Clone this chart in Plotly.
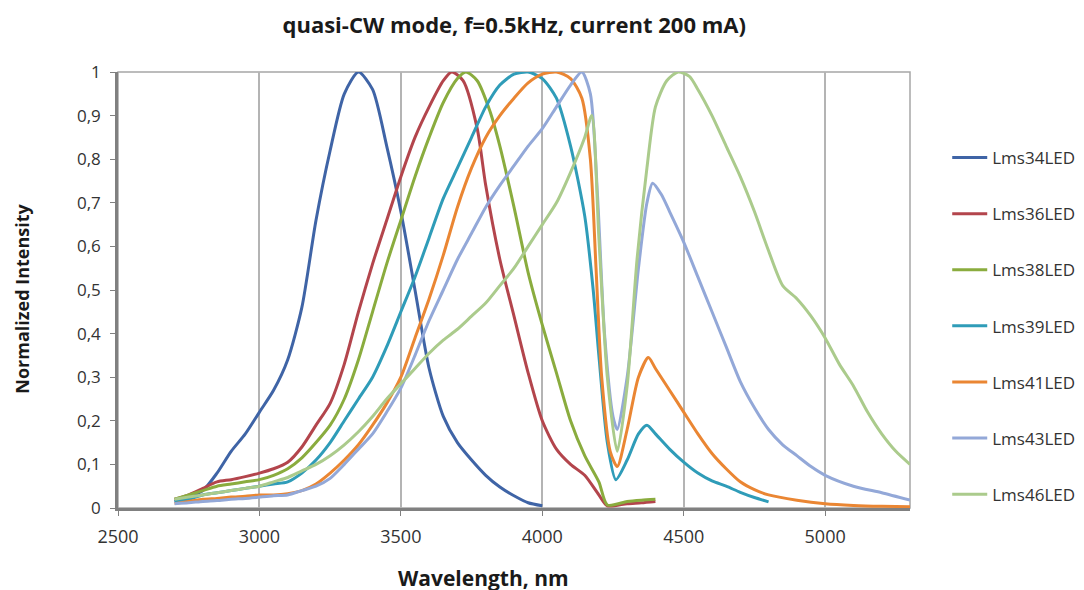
import plotly.graph_objects as go

# spectra (wavelength nm, normalized intensity)
lms34_x = [2700, 2750, 2800, 2850, 2900, 2950, 3000, 3050, 3100, 3150, 3200, 3250, 3300, 3350,
           3400, 3450, 3500, 3550, 3600, 3650, 3700, 3750, 3800, 3850, 3900, 3950, 4000]
lms34_y = [0.015, 0.025, 0.04, 0.08, 0.13, 0.17, 0.22, 0.27, 0.34, 0.46, 0.66, 0.82, 0.95, 1.0,
           0.96, 0.83, 0.68, 0.50, 0.32, 0.21, 0.15, 0.11, 0.075, 0.048, 0.028, 0.012, 0.005]

lms36_x = [2700, 2750, 2800, 2850, 2900, 2950, 3000, 3050, 3100, 3150, 3200, 3250, 3300, 3350,
           3400, 3450, 3500, 3550, 3600, 3650, 3680, 3720, 3770, 3800, 3850, 3900, 3950, 4000,
           4050, 4100, 4150, 4200, 4230, 4300, 4350, 4400]
lms36_y = [0.02, 0.03, 0.045, 0.06, 0.065, 0.072, 0.08, 0.09, 0.105, 0.14, 0.19, 0.24, 0.33, 0.45,
           0.56, 0.66, 0.76, 0.85, 0.92, 0.98, 1.0, 0.98, 0.87, 0.74, 0.57, 0.44, 0.31, 0.20,
           0.135, 0.10, 0.075, 0.03, 0.005, 0.01, 0.012, 0.015]

lms38_x = [2700, 2750, 2800, 2850, 2900, 2950, 3000, 3050, 3100, 3150, 3200, 3250, 3300, 3350,
           3400, 3450, 3500, 3550, 3600, 3650, 3700, 3730, 3770, 3815, 3850, 3900, 3950, 4000,
           4050, 4100, 4150, 4200, 4230, 4300, 4350, 4400]
lms38_y = [0.02, 0.03, 0.04, 0.05, 0.055, 0.06, 0.065, 0.075, 0.09, 0.115, 0.15, 0.19, 0.25, 0.34,
           0.45, 0.56, 0.66, 0.76, 0.85, 0.93, 0.985, 1.0, 0.98, 0.91, 0.83, 0.69, 0.54, 0.42,
           0.31, 0.20, 0.12, 0.06, 0.007, 0.015, 0.018, 0.02]

lms39_x = [2700, 2750, 2800, 2850, 2900, 2950, 3000, 3050, 3100, 3150, 3200, 3250, 3300, 3350,
           3400, 3450, 3500, 3550, 3600, 3650, 3700, 3750, 3800, 3850, 3900, 3950, 4000, 4050,
           4100, 4150, 4180, 4200, 4230, 4260, 4300, 4340, 4370, 4400, 4450, 4500, 4550, 4600,
           4650, 4700, 4750, 4800]
lms39_y = [0.015, 0.02, 0.03, 0.035, 0.04, 0.045, 0.05, 0.055, 0.06, 0.08, 0.11, 0.15, 0.20, 0.25,
           0.30, 0.37, 0.45, 0.53, 0.62, 0.71, 0.78, 0.85, 0.92, 0.97, 0.995, 1.0, 0.985, 0.94,
           0.83, 0.67, 0.50, 0.35, 0.15, 0.065, 0.11, 0.17, 0.19, 0.17, 0.135, 0.105, 0.08, 0.062,
           0.05, 0.036, 0.024, 0.014]

lms41_x = [2700, 2750, 2800, 2850, 2900, 2950, 3000, 3050, 3100, 3150, 3200, 3250, 3300, 3350,
           3400, 3450, 3500, 3550, 3600, 3650, 3700, 3750, 3800, 3850, 3900, 3950, 4000, 4050,
           4100, 4140, 4170, 4190, 4210, 4240, 4265, 4300, 4340, 4375, 4400, 4450, 4500, 4550,
           4600, 4650, 4700, 4750, 4800, 4900, 5000, 5100, 5200, 5300]
lms41_y = [0.01, 0.015, 0.02, 0.022, 0.025, 0.027, 0.03, 0.03, 0.033, 0.04, 0.055, 0.08, 0.11, 0.145,
           0.19, 0.24, 0.30, 0.39, 0.48, 0.58, 0.69, 0.78, 0.85, 0.90, 0.94, 0.975, 0.995, 1.0,
           0.985, 0.94, 0.80, 0.55, 0.30, 0.13, 0.095, 0.18, 0.30, 0.345, 0.32, 0.27, 0.22, 0.17,
           0.125, 0.09, 0.06, 0.042, 0.03, 0.018, 0.01, 0.006, 0.004, 0.003]

lms43_x = [2700, 2750, 2800, 2850, 2900, 2950, 3000, 3050, 3100, 3150, 3200, 3250, 3300, 3350,
           3400, 3450, 3500, 3550, 3600, 3650, 3700, 3750, 3800, 3850, 3900, 3950, 4000, 4050,
           4100, 4140, 4170, 4195, 4220, 4250, 4265, 4300, 4340, 4370, 4390, 4420, 4450, 4500,
           4550, 4600, 4650, 4700, 4750, 4800, 4850, 4900, 4950, 5000, 5100, 5200, 5300]
lms43_y = [0.01, 0.012, 0.015, 0.017, 0.02, 0.022, 0.025, 0.028, 0.03, 0.04, 0.05, 0.068, 0.10, 0.135,
           0.17, 0.22, 0.275, 0.35, 0.43, 0.50, 0.57, 0.63, 0.69, 0.74, 0.785, 0.83, 0.87, 0.92,
           0.97, 1.0, 0.95, 0.72, 0.40, 0.21, 0.18, 0.30, 0.55, 0.70, 0.745, 0.72, 0.68, 0.61,
           0.53, 0.45, 0.37, 0.29, 0.23, 0.18, 0.145, 0.12, 0.095, 0.075, 0.05, 0.035, 0.018]

lms46_x = [2700, 2750, 2800, 2850, 2900, 2950, 3000, 3050, 3100, 3150, 3200, 3250, 3300, 3350,
           3400, 3450, 3500, 3550, 3600, 3650, 3700, 3750, 3800, 3850, 3900, 3950, 4000, 4050,
           4100, 4150, 4175, 4200, 4230, 4265, 4300, 4335, 4370, 4400, 4440, 4480, 4520, 4550,
           4600, 4650, 4700, 4750, 4800, 4850, 4900, 4950, 5000, 5050, 5100, 5150, 5200, 5250, 5300]
lms46_y = [0.02, 0.025, 0.03, 0.035, 0.04, 0.045, 0.05, 0.06, 0.07, 0.085, 0.10, 0.12, 0.145, 0.175,
           0.21, 0.25, 0.285, 0.32, 0.355, 0.385, 0.41, 0.44, 0.47, 0.51, 0.55, 0.60, 0.65, 0.70,
           0.77, 0.85, 0.90, 0.62, 0.30, 0.13, 0.28, 0.57, 0.78, 0.92, 0.98, 1.0, 0.99, 0.96,
           0.90, 0.83, 0.76, 0.68, 0.59, 0.51, 0.48, 0.44, 0.39, 0.33, 0.28, 0.22, 0.17, 0.13, 0.10]

series = [
    ("Lms34LED", lms34_x, lms34_y, "#3f64a6"),
    ("Lms36LED", lms36_x, lms36_y, "#b3454c"),
    ("Lms38LED", lms38_x, lms38_y, "#8aac3e"),
    ("Lms39LED", lms39_x, lms39_y, "#2f9cb8"),
    ("Lms41LED", lms41_x, lms41_y, "#ea8633"),
    ("Lms43LED", lms43_x, lms43_y, "#93a8d8"),
    ("Lms46LED", lms46_x, lms46_y, "#abcb8c"),
]

x_ticks = [2500, 3000, 3500, 4000, 4500, 5000]
y_ticks = [0, 0.1, 0.2, 0.3, 0.4, 0.5, 0.6, 0.7, 0.8, 0.9, 1]

fnt = "Open Sans, Lato, sans-serif"

fig = go.Figure()
for name, xs, ys, col in series:
    fig.add_trace(go.Scatter(x=xs, y=ys, name=name, mode="lines", legendgroup=name,
                             line=dict(color=col, width=3, shape="spline", smoothing=0.7)))

# plot area frame (top/right lighter)
fig.add_shape(type="rect", xref="paper", yref="paper", x0=0, y0=0, x1=1, y1=1,
              line=dict(color="#a6a6a6", width=1.5), layer="below")

# axis titles placed as in the reference
fig.add_annotation(text="<b>Wavelength, nm</b>", xref="paper", yref="paper", x=0.462, y=0,
                   yshift=-70, xanchor="center", yanchor="middle", showarrow=False,
                   font=dict(size=21, color="#1a1a1a", family=fnt))
fig.add_annotation(text="<b>Normalized Intensity</b>", xref="paper", yref="paper", x=0, y=0.48,
                   xshift=-96, xanchor="center", yanchor="middle", showarrow=False,
                   textangle=-90, font=dict(size=18, color="#1a1a1a", family=fnt))

fig.update_layout(
    width=1084, height=590,
    margin=dict(l=110, r=182, t=64, b=90),
    paper_bgcolor="white", plot_bgcolor="white",
    separators=",.",
    font=dict(family=fnt, color="#222222"),
    title=dict(text="<b>quasi-CW mode, f=0.5kHz, current 200 mA)</b>",
               x=0.467, xanchor="center", y=0.971, yanchor="middle",
               font=dict(size=22, color="#1a1a1a", family=fnt)),
    xaxis=dict(range=[2500, 5300], tickvals=x_ticks, showgrid=True, gridcolor="#b4b4b4",
               gridwidth=1.5, showline=True, linecolor="#808080", linewidth=2.5,
               ticks="outside", ticklen=5, tickcolor="#808080", zeroline=False,
               ticklabelstandoff=6,
               tickfont=dict(size=18, color="#333333")),
    yaxis=dict(range=[0, 1], tickvals=y_ticks, showgrid=False, showline=True,
               linecolor="#808080", linewidth=2.5, ticks="outside", ticklen=5,
               tickcolor="#808080", zeroline=False, tickformat="~g",
               ticklabelstandoff=6,
               tickfont=dict(size=17, color="#333333")),
    legend=dict(x=1.047, xanchor="left", y=0.844, yanchor="top", tracegroupgap=31,
                font=dict(size=17, color="#333333"), itemwidth=35, bgcolor="rgba(0,0,0,0)"),
)

fig.write_html("out.html")
